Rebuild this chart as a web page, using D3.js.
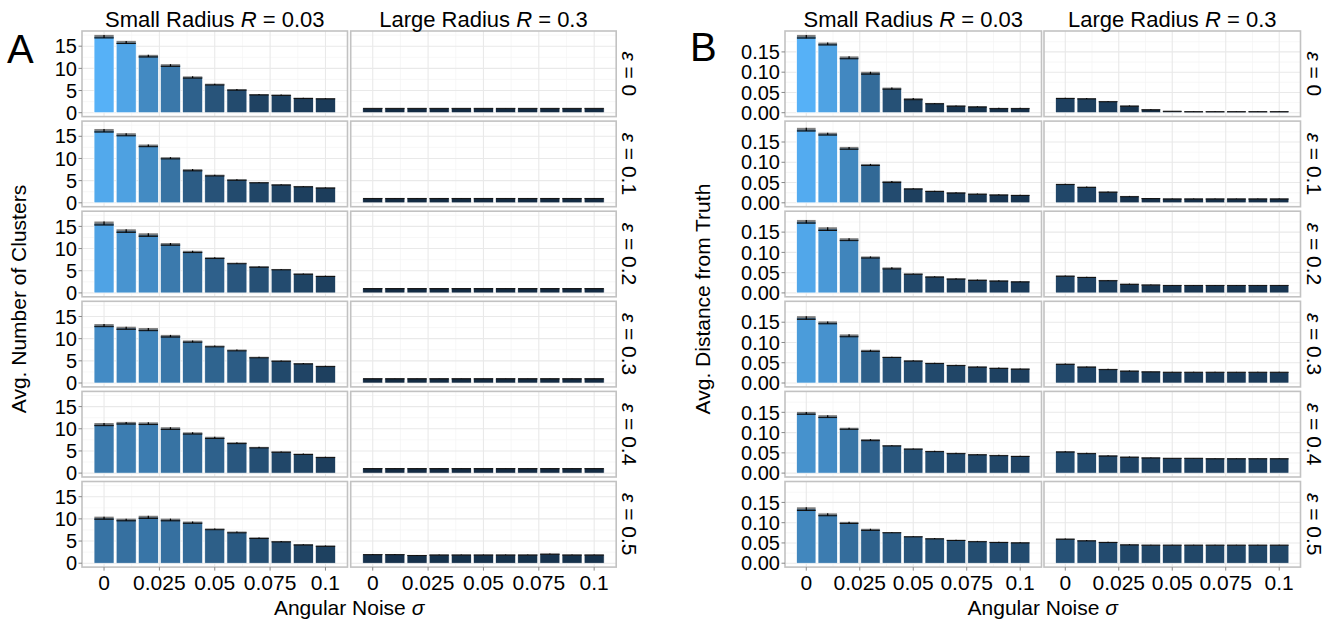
<!DOCTYPE html>
<html>
<head>
<meta charset="utf-8">
<script src="https://cdn.jsdelivr.net/npm/d3@7"></script>
<style>
  body { margin: 0; background: #fff; }
  text { font-family: 'Liberation Sans', Arial, Helvetica, sans-serif; fill: #000; }
</style>
</head>
<body>
<div id="chart"></div>
<script>
// noise levels (one bar each) and facet levels
var sigma = [0, 0.01, 0.02, 0.03, 0.04, 0.05, 0.06, 0.07, 0.08, 0.09, 0.1]
var epsilon = ['0', '0.1', '0.2', '0.3', '0.4', '0.5']
var radius = ['0.03', '0.3']
var radiusNames = ['Small Radius', 'Large Radius']

var xTicks = [0, 0.025, 0.05, 0.075, 0.1]
var xTickLabels = ['0', '0.025', '0.05', '0.075', '0.1']
var yTicksA = [0, 5, 10, 15]
var yTickLabelsA = ['0', '5', '10', '15']
var yTicksB = [0, 0.05, 0.10, 0.15]
var yTickLabelsB = ['0.00', '0.05', '0.10', '0.15']

// A: avg number of clusters, rows = epsilon
var clustersSmall = [
  [17.2, 15.9, 12.8, 10.7, 8.0, 6.4, 5.2, 4.1, 4.0, 3.3, 3.2],
  [16.3, 15.4, 12.9, 10.1, 7.4, 6.2, 5.2, 4.6, 4.1, 3.7, 3.4],
  [15.7, 14.0, 13.1, 11.0, 9.3, 7.9, 6.7, 5.9, 5.3, 4.3, 3.8],
  [13.0, 12.4, 12.1, 10.6, 9.4, 8.3, 7.4, 5.8, 5.0, 4.4, 3.8],
  [11.0, 11.3, 11.2, 10.1, 9.0, 8.0, 6.8, 5.8, 4.8, 4.3, 3.6],
  [10.2, 9.8, 10.4, 9.8, 9.2, 7.7, 7.0, 5.7, 4.9, 4.2, 3.9]
]
var clustersSmallSe = [
  [0.35, 0.3, 0.25, 0.25, 0.2, 0.15, 0.12, 0.1, 0.1, 0.1, 0.08],
  [0.35, 0.3, 0.25, 0.2, 0.2, 0.15, 0.12, 0.1, 0.1, 0.1, 0.08],
  [0.4, 0.35, 0.35, 0.25, 0.2, 0.15, 0.12, 0.12, 0.1, 0.1, 0.1],
  [0.3, 0.3, 0.3, 0.25, 0.2, 0.15, 0.15, 0.12, 0.1, 0.1, 0.1],
  [0.3, 0.25, 0.25, 0.25, 0.2, 0.2, 0.15, 0.12, 0.1, 0.1, 0.1],
  [0.3, 0.25, 0.3, 0.25, 0.2, 0.15, 0.15, 0.12, 0.1, 0.1, 0.1]
]
var clustersLarge = [
  [1.0, 1.0, 1.0, 1.0, 1.0, 1.0, 1.0, 1.0, 1.0, 1.0, 1.0],
  [1.0, 1.0, 1.0, 1.0, 1.0, 1.0, 1.0, 1.0, 1.0, 1.0, 1.0],
  [1.0, 1.0, 1.0, 1.0, 1.0, 1.0, 1.0, 1.0, 1.0, 1.0, 1.0],
  [1.0, 1.0, 1.0, 1.0, 1.0, 1.0, 1.0, 1.0, 1.0, 1.0, 1.0],
  [1.05, 1.05, 1.05, 1.05, 1.05, 1.05, 1.05, 1.05, 1.05, 1.05, 1.05],
  [2.0, 2.0, 1.8, 1.9, 1.9, 1.9, 1.9, 1.9, 2.1, 1.9, 1.9]
]
var clustersLargeSe = [
  [0.02, 0.02, 0.02, 0.02, 0.02, 0.02, 0.02, 0.02, 0.02, 0.02, 0.02],
  [0.02, 0.02, 0.02, 0.02, 0.02, 0.02, 0.02, 0.02, 0.02, 0.02, 0.02],
  [0.02, 0.02, 0.02, 0.02, 0.02, 0.02, 0.02, 0.02, 0.02, 0.02, 0.02],
  [0.03, 0.03, 0.03, 0.03, 0.03, 0.03, 0.03, 0.03, 0.03, 0.03, 0.03],
  [0.03, 0.03, 0.03, 0.03, 0.03, 0.03, 0.03, 0.03, 0.03, 0.03, 0.03],
  [0.08, 0.08, 0.07, 0.07, 0.07, 0.07, 0.07, 0.07, 0.08, 0.07, 0.07]
]

// B: avg distance from truth
var distSmall = [
  [0.188, 0.170, 0.136, 0.098, 0.060, 0.034, 0.023, 0.017, 0.015, 0.011, 0.011],
  [0.181, 0.170, 0.135, 0.094, 0.052, 0.035, 0.029, 0.025, 0.022, 0.020, 0.019],
  [0.176, 0.158, 0.132, 0.088, 0.061, 0.047, 0.040, 0.035, 0.032, 0.030, 0.028],
  [0.161, 0.149, 0.117, 0.080, 0.064, 0.055, 0.049, 0.044, 0.040, 0.037, 0.035],
  [0.148, 0.140, 0.110, 0.082, 0.068, 0.060, 0.054, 0.049, 0.046, 0.044, 0.042],
  [0.134, 0.120, 0.100, 0.083, 0.076, 0.066, 0.061, 0.057, 0.054, 0.052, 0.051]
]
var distSmallSe = [
  [0.004, 0.003, 0.003, 0.003, 0.002, 0.002, 0.001, 0.001, 0.001, 0.001, 0.001],
  [0.004, 0.003, 0.003, 0.002, 0.002, 0.001, 0.001, 0.001, 0.001, 0.001, 0.001],
  [0.004, 0.004, 0.003, 0.002, 0.002, 0.001, 0.001, 0.001, 0.001, 0.001, 0.001],
  [0.004, 0.003, 0.003, 0.002, 0.001, 0.001, 0.001, 0.001, 0.001, 0.001, 0.001],
  [0.003, 0.003, 0.002, 0.002, 0.001, 0.001, 0.001, 0.001, 0.001, 0.001, 0.001],
  [0.004, 0.003, 0.002, 0.002, 0.001, 0.001, 0.001, 0.001, 0.001, 0.001, 0.001]
]
var distLarge = [
  [0.036, 0.035, 0.028, 0.017, 0.008, 0.004, 0.003, 0.003, 0.003, 0.003, 0.003],
  [0.046, 0.039, 0.027, 0.016, 0.011, 0.010, 0.010, 0.010, 0.010, 0.010, 0.010],
  [0.042, 0.039, 0.031, 0.022, 0.020, 0.019, 0.019, 0.019, 0.019, 0.019, 0.019],
  [0.047, 0.040, 0.034, 0.030, 0.028, 0.027, 0.027, 0.027, 0.027, 0.027, 0.027],
  [0.053, 0.049, 0.043, 0.040, 0.038, 0.037, 0.037, 0.036, 0.036, 0.036, 0.036],
  [0.060, 0.056, 0.052, 0.046, 0.045, 0.045, 0.045, 0.045, 0.045, 0.045, 0.045]
]
var distLargeSe = [
  [0.001, 0.001, 0.001, 0.001, 0.001, 0.0005, 0.0005, 0.0005, 0.0005, 0.0005, 0.0005],
  [0.001, 0.001, 0.001, 0.001, 0.0005, 0.0005, 0.0005, 0.0005, 0.0005, 0.0005, 0.0005],
  [0.001, 0.001, 0.001, 0.001, 0.0005, 0.0005, 0.0005, 0.0005, 0.0005, 0.0005, 0.0005],
  [0.001, 0.001, 0.001, 0.001, 0.0005, 0.0005, 0.0005, 0.0005, 0.0005, 0.0005, 0.0005],
  [0.001, 0.001, 0.001, 0.001, 0.0005, 0.0005, 0.0005, 0.0005, 0.0005, 0.0005, 0.0005],
  [0.001, 0.001, 0.001, 0.001, 0.0005, 0.0005, 0.0005, 0.0005, 0.0005, 0.0005, 0.0005]
]

var W = 1324, H = 626
var rowTop = 31, rowH = 85.6, rowGap = 4.5
var barWidth = 0.009

var plots = [
  {letter: 'A', letterX: 7, letterY: 63, left: 82, colW: 265.5, colGap: 3.2, yTitleX: 19,
   yTitle: 'Avg. Number of Clusters', small: clustersSmall, smallSe: clustersSmallSe,
   large: clustersLarge, largeSe: clustersLargeSe, yTicks: yTicksA, yLabels: yTickLabelsA},
  {letter: 'B', letterX: 690, letterY: 61, left: 785, colW: 256.5, colGap: 2.5, yTitleX: 703,
   yTitle: 'Avg. Distance from Truth', small: distSmall, smallSe: distSmallSe,
   large: distLarge, largeSe: distLargeSe, yTicks: yTicksB, yLabels: yTickLabelsB}
]

var svg = d3.select('#chart').append('svg')
    .attr('width', W)
    .attr('height', H)

plots.forEach(drawPlot)

function drawPlot(p) {
  var groups = [p.small, p.large], groupsSe = [p.smallSe, p.largeSe]

  // y domain like ggplot: 0 .. max(mean + se), expanded 5%
  var top = d3.max(groups, function(g, gi) {
    return d3.max(g, function(row, ri) {
      return d3.max(row, function(v, i) { return v + groupsSe[gi][ri][i] })
    })
  })
  var y = d3.scaleLinear()
      .domain([-top * 0.05, top * 1.05])
      .range([rowH, 0])
  var yStep = p.yTicks[1] - p.yTicks[0]
  var yMinor = p.yTicks.map(function(t) { return t + yStep / 2 })
      .filter(function(t) { return t < y.domain()[1] })

  var xLo = sigma[0] - barWidth / 2, xHi = sigma[sigma.length - 1] + barWidth / 2
  var xPad = (xHi - xLo) * 0.05
  var x = d3.scaleLinear()
      .domain([xLo - xPad, xHi + xPad])
      .range([0, p.colW])
  var xStep = xTicks[1] - xTicks[0]
  var xMinor = xTicks.slice(0, -1).map(function(t) { return t + xStep / 2 })

  var all = d3.merge(groups.map(function(g) { return d3.merge(g) }))
  var color = d3.scaleLinear()
      .domain(d3.extent(all))
      .range(['#132B43', '#56B1F7'])
      .interpolate(d3.interpolateLab)

  groups.forEach(function(g, c) {
    g.forEach(function(row, r) {
      var px = p.left + c * (p.colW + p.colGap)
      var py = rowTop + r * (rowH + rowGap)
      var panel = svg.append('g').attr('transform', 'translate(' + px + ',' + py + ')')

      panel.append('rect')
          .attr('width', p.colW).attr('height', rowH)
          .attr('fill', '#fff')

      // grid
      panel.selectAll('.ymin').data(yMinor).enter().append('line')
          .attr('x1', 0).attr('x2', p.colW)
          .attr('y1', y).attr('y2', y)
          .attr('stroke', '#f3f3f3').attr('stroke-width', 0.7)
      panel.selectAll('.xmin').data(xMinor).enter().append('line')
          .attr('y1', 0).attr('y2', rowH)
          .attr('x1', x).attr('x2', x)
          .attr('stroke', '#f3f3f3').attr('stroke-width', 0.7)
      panel.selectAll('.ymaj').data(p.yTicks).enter().append('line')
          .attr('x1', 0).attr('x2', p.colW)
          .attr('y1', y).attr('y2', y)
          .attr('stroke', '#e9e9e9').attr('stroke-width', 1.1)
      panel.selectAll('.xmaj').data(xTicks).enter().append('line')
          .attr('y1', 0).attr('y2', rowH)
          .attr('x1', x).attr('x2', x)
          .attr('stroke', '#e9e9e9').attr('stroke-width', 1.1)

      var seRow = groupsSe[c][r]
      var bars = row.map(function(v, i) { return {s: sigma[i], v: v, se: seRow[i]} })

      panel.selectAll('.bar').data(bars).enter().append('rect')
          .attr('x', function(d) { return x(d.s - barWidth / 2) })
          .attr('width', function(d) { return x(barWidth) - x(0) })
          .attr('y', function(d) { return y(d.v) })
          .attr('height', function(d) { return y(0) - y(d.v) })
          .attr('fill', function(d) { return color(d.v) })
          .attr('stroke', '#fff')
          .attr('stroke-width', 0.6)

      // error bands
      panel.selectAll('.err').data(bars).enter().append('rect')
          .attr('x', function(d) { return x(d.s - barWidth / 2) + 0.3 })
          .attr('width', function(d) { return x(barWidth) - x(0) - 0.6 })
          .attr('y', function(d) { return y(d.v + d.se) })
          .attr('height', function(d) { return Math.max(1, y(d.v - d.se) - y(d.v + d.se)) })
          .attr('fill', 'rgba(25,25,25,0.55)')
      panel.selectAll('.errline').data(bars).enter().append('line')
          .attr('x1', function(d) { return x(d.s - barWidth / 2) + 0.3 })
          .attr('x2', function(d) { return x(d.s + barWidth / 2) - 0.3 })
          .attr('y1', function(d) { return y(d.v - d.se) })
          .attr('y2', function(d) { return y(d.v - d.se) })
          .attr('stroke', '#111').attr('stroke-width', 1)
      panel.selectAll('.dot').data(bars).enter().append('line')
          .attr('x1', function(d) { return x(d.s) }).attr('x2', function(d) { return x(d.s) })
          .attr('y1', function(d) { return y(d.v + d.se) })
          .attr('y2', function(d) { return y(d.v - d.se) })
          .attr('stroke', '#000').attr('stroke-width', 1.2)

      panel.append('rect')
          .attr('width', p.colW).attr('height', rowH)
          .attr('fill', 'none')
          .attr('stroke', '#c2c2c2').attr('stroke-width', 1.6)

      // y axis on the left column
      if (c === 0) {
        panel.selectAll('.yt').data(p.yTicks).enter().append('line')
            .attr('x1', -3.5).attr('x2', 0)
            .attr('y1', y).attr('y2', y)
            .attr('stroke', '#888')
        panel.selectAll('.yl').data(p.yTicks).enter().append('text')
            .attr('x', -5)
            .attr('y', y)
            .attr('dy', '0.36em')
            .attr('text-anchor', 'end')
            .attr('font-size', '20px')
            .text(function(d, i) { return p.yLabels[i] })
      }
      // x axis on the bottom row
      if (r === g.length - 1) {
        panel.selectAll('.xt').data(xTicks).enter().append('line')
            .attr('x1', x).attr('x2', x)
            .attr('y1', rowH).attr('y2', rowH + 3.5)
            .attr('stroke', '#888')
        panel.selectAll('.xl').data(xTicks).enter().append('text')
            .attr('x', x)
            .attr('y', rowH + 23)
            .attr('text-anchor', 'middle')
            .attr('font-size', '21px')
            .text(function(d, i) { return xTickLabels[i] })
      }
      // strip on top
      if (r === 0) {
        var st = panel.append('text')
            .attr('x', p.colW / 2)
            .attr('y', -4)
            .attr('text-anchor', 'middle')
            .attr('font-size', '22px')
        st.append('tspan').text(radiusNames[c] + ' ')
        st.append('tspan').attr('font-style', 'italic').text('R')
        st.append('tspan').text(' = ' + radius[c])
      }
      // strip on the right
      if (c === 1) {
        var sr = panel.append('text')
            .attr('transform', 'translate(' + (p.colW + 6) + ',' + (rowH / 2) + ') rotate(90)')
            .attr('text-anchor', 'middle')
            .attr('font-size', '21px')
        sr.append('tspan').attr('font-style', 'italic').text('ε')
        sr.append('tspan').text(' = ' + epsilon[r])
      }
    })
  })

  var totalW = 2 * p.colW + p.colGap
  var bottom = rowTop + epsilon.length * rowH + (epsilon.length - 1) * rowGap

  svg.append('text')
      .attr('x', p.left + totalW / 2)
      .attr('y', bottom + 48)
      .attr('text-anchor', 'middle')
      .attr('font-size', '21px')
      .call(function(t) {
        t.append('tspan').text('Angular Noise ')
        t.append('tspan').attr('font-style', 'italic').text('σ')
      })

  svg.append('text')
      .attr('transform', 'translate(' + (p.yTitleX + 7) + ',' + ((rowTop + bottom) / 2) + ') rotate(-90)')
      .attr('text-anchor', 'middle')
      .attr('font-size', '21px')
      .text(p.yTitle)

  svg.append('text')
      .attr('x', p.letterX)
      .attr('y', p.letterY)
      .attr('font-size', '40px')
      .text(p.letter)
}
</script>
</body>
</html>
